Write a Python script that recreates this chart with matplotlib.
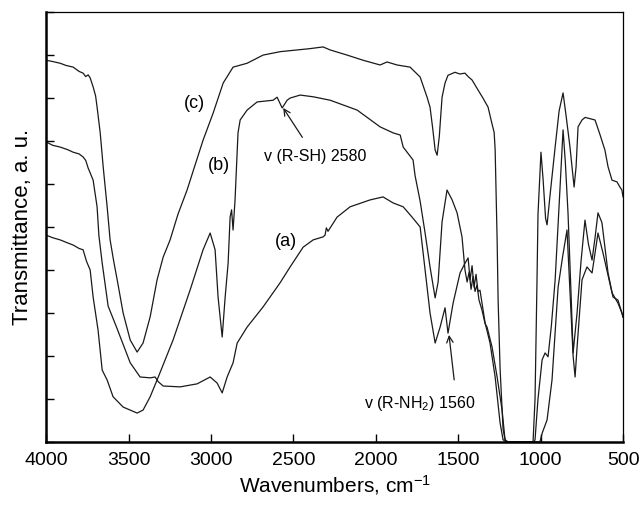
import matplotlib
matplotlib.use("Agg")
import matplotlib.pyplot as plt

plt.rcParams['font.family'] = ['Liberation Sans', 'DejaVu Sans']
plt.rcParams['mathtext.default'] = 'regular'

# spectrum (c) - top trace
c_wn = [4000, 3960, 3915, 3880, 3836, 3800, 3776, 3760, 3745, 3733, 3715, 3700, 3691,
        3672, 3654, 3630, 3612, 3590, 3569, 3533, 3490, 3448, 3412, 3369, 3327, 3290,
        3248, 3200, 3145, 3100, 3048, 2987, 2926, 2866, 2781, 2684, 2580, 2477, 2400,
        2320, 2277, 2174, 2077, 1974, 1932, 1871, 1792, 1731, 1689, 1671, 1655, 1640,
        1628, 1615, 1598, 1580, 1562, 1520, 1490, 1459, 1440, 1416, 1380, 1350, 1319,
        1295, 1282, 1276, 1264, 1258, 1246, 1228, 1216, 1200, 1046, 1034, 1022, 1016,
        998, 985, 970, 961, 944, 912, 888, 864, 846, 822, 797, 785, 773, 749, 730, 700,
        670, 640, 610, 591, 567, 537, 519, 507, 500]
c_tr = [88.8, 88.5, 88.1, 87.6, 87.2, 86.2, 85.8, 85.0, 85.4, 84.7, 82.6, 80.5, 77.9,
        71.9, 64.0, 54.7, 47.0, 42.0, 37.7, 30.0, 23.7, 20.9, 23.0, 29.1, 37.7, 43.0,
        47.0, 53.0, 58.6, 64.0, 70.2, 76.5, 83.5, 87.2, 88.1, 90.0, 90.8, 91.2, 91.5,
        91.9, 91.2, 90.0, 88.8, 87.7, 88.4, 87.7, 87.2, 84.9, 80.2, 77.9, 73.0, 67.9,
        66.7, 71.0, 80.2, 83.5, 85.3, 86.0, 85.6, 85.8, 85.0, 84.2, 81.9, 80.0, 77.9,
        74.0, 72.0, 68.0, 47.0, 33.0, 17.0, 3.0, 0.5, 0.0, 0.0, 10.0, 37.7, 53.0,
        67.4, 61.0, 52.0, 50.5, 57.0, 68.6, 77.0, 81.2, 76.0, 68.6, 59.3, 64.0, 73.3, 74.9, 75.5, 75.2,
        74.9, 71.5, 67.9, 64.0, 60.9, 60.5, 59.3, 58.6, 57.0]

# spectrum (b)
b_wn = [4000, 3960, 3915, 3870, 3836, 3800, 3776, 3755, 3733, 3715, 3685, 3660, 3630,
        3594, 3533, 3448, 3412, 3369, 3327, 3230, 3127, 3048, 3005, 2975, 2957, 2932,
        2914, 2896, 2884, 2875, 2866, 2854, 2836, 2823, 2781, 2720, 2623, 2599, 2568,
        2538, 2520, 2459, 2380, 2277, 2113, 1974, 1895, 1852, 1834, 1774, 1762, 1731,
        1701, 1671, 1640, 1622, 1598, 1568, 1537, 1507, 1477, 1459, 1446, 1434, 1422,
        1410, 1398, 1386, 1374, 1356, 1337, 1325, 1295, 1264, 1234, 1216, 1200, 1040,
        1034, 1016, 991, 973, 955, 935, 912, 888, 864, 850, 834, 816, 803, 779, 755,
        731, 710, 688, 670, 652, 628, 591, 561, 531, 507, 500]
b_tr = [48.1, 47.5, 47.0, 46.3, 45.8, 45.0, 44.7, 42.0, 40.0, 33.7, 26.0, 16.7, 14.4,
        10.5, 8.1, 6.7, 7.4, 10.5, 14.4, 23.7, 35.3, 44.7, 48.6, 44.7, 33.7, 24.4,
        33.7, 41.6, 52.3, 54.0, 49.3, 56.3, 71.9, 74.9, 77.2, 79.1, 79.5, 80.2, 77.7,
        79.5, 80.0, 80.7, 80.3, 79.5, 77.2, 73.3, 71.9, 71.4, 68.6, 65.6, 62.0, 56.0,
        48.6, 40.7, 33.5, 37.2, 51.2, 58.6, 56.3, 53.3, 47.7, 40.0, 37.2, 39.5, 35.5,
        38.5, 35.0, 36.5, 33.0, 30.7, 27.5, 26.7, 22.1, 15.1, 7.4, 0.5, 0.0, 0.0,
        0.5, 10.0, 19.1, 20.7, 19.8, 27.0, 37.7, 55.0, 72.6, 65.0, 53.3, 35.0, 20.7, 30.0, 42.0,
        51.6, 46.0, 42.3, 47.5, 53.3, 51.0, 39.3, 33.7, 33.0, 30.0, 29.0]

# spectrum (a)
a_wn = [4000, 3960, 3915, 3870, 3836, 3800, 3776, 3760, 3745, 3733, 3715, 3691, 3680,
        3660, 3624, 3569, 3490, 3430, 3369, 3339, 3320, 3290, 3187, 3084, 3005, 2963,
        2932, 2902, 2866, 2841, 2781, 2684, 2581, 2520, 2441, 2380, 2320, 2308, 2300,
        2290, 2235, 2156, 2035, 1956, 1895, 1834, 1780, 1731, 1701, 1671, 1640, 1610,
        1580, 1562, 1531, 1489, 1460, 1440, 1428, 1416, 1404, 1392, 1380, 1368, 1337,
        1307, 1276, 1246, 1228, 1210, 1004, 991, 961, 931, 894, 867, 840, 822, 803,
        791, 779, 749, 719, 688, 652, 622, 567, 531, 507, 500]
a_tr = [69.8, 69.0, 68.6, 68.0, 67.4, 67.0, 66.3, 65.5, 63.7, 62.6, 60.9, 54.7, 48.0,
        41.6, 31.6, 26.3, 18.4, 15.1, 14.9, 15.1, 14.0, 13.0, 12.8, 13.5, 15.1, 13.7,
        11.4, 15.1, 18.4, 23.0, 26.7, 31.4, 37.0, 40.7, 45.3, 47.0, 47.7, 48.1, 49.8,
        49.0, 52.3, 54.7, 56.3, 57.0, 55.6, 54.7, 52.3, 50.0, 40.0, 30.0, 23.0, 26.7,
        31.2, 25.3, 32.3, 39.3, 41.5, 42.8, 37.7, 41.0, 36.0, 39.0, 35.0, 35.3, 27.7,
        23.0, 15.1, 4.4, 0.5, 0.0, 0.0, 2.0, 5.1, 14.4, 36.0, 43.0, 49.3, 35.0, 20.0,
        15.1, 22.0, 37.7, 40.7, 39.3, 48.6, 44.0, 34.7, 32.3, 30.0, 29.0]

fig = plt.figure(figsize=(6.41, 5.05), dpi=100)
ax = fig.add_axes([0.072, 0.125, 0.9, 0.851])

for wn, tr in [(a_wn, a_tr), (b_wn, b_tr), (c_wn, c_tr)]:
    ax.plot(wn, tr, color='#1a1a1a', lw=0.9)

ax.set_xlim(4000, 500)
ax.set_ylim(0, 100)
ax.set_xticks(range(4000, 499, -500))
ax.set_yticks(range(0, 101, 10))
ax.set_yticklabels([])
ax.tick_params(direction='in', length=6, width=1, labelsize=14)
ax.tick_params(axis='x', pad=7)
for side in ['left', 'bottom']:
    ax.spines[side].set_linewidth(1.8)
for side in ['top', 'right']:
    ax.spines[side].set_linewidth(0.9)

ax.set_xlabel('Wavenumbers, cm$^{-1}$', fontsize=15, labelpad=3)
ax.set_ylabel('Transmittance, a. u.', fontsize=16, labelpad=6)

ax.text(3102, 78.8, '(c)', fontsize=13, ha='center', va='center')
ax.text(2951, 64.2, '(b)', fontsize=13, ha='center', va='center')
ax.text(2544, 46.7, '(a)', fontsize=13, ha='center', va='center')

arrow = dict(arrowstyle='->', color='#1a1a1a', lw=0.9)
ax.annotate('v (R-SH) 2580', xy=(2562, 77.7), xytext=(2368, 66.3), fontsize=11.5,
            ha='center', va='center', arrowprops=dict(arrow, shrinkB=0, shrinkA=8))
ax.annotate('v (R-NH$_2$) 1560', xy=(1556, 24.9), xytext=(1731, 9.0), fontsize=11.5,
            ha='center', va='center', arrowprops=dict(arrow, shrinkB=0, shrinkA=8,
                                                      relpos=(0.82, 1.0)))

fig.savefig('out.png', dpi=100)
